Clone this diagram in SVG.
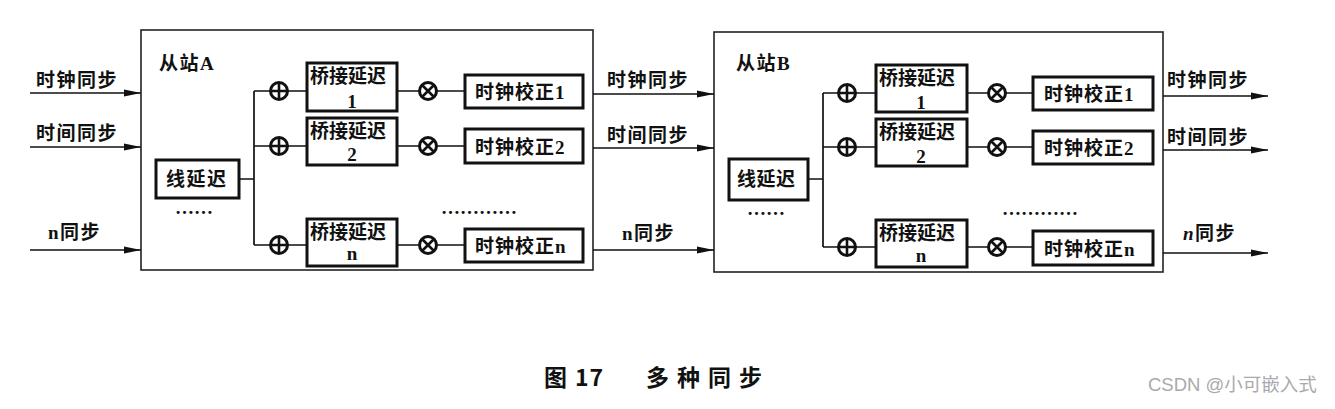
<svg xmlns="http://www.w3.org/2000/svg" width="1335" height="409" viewBox="0 0 1335 409">
<defs>
<style>
.t{font-family:"Liberation Serif","Noto Sans CJK SC",serif;font-weight:bold;font-size:19px;fill:#111}
.lb{letter-spacing:1.5px}
.bx{fill:#fff;stroke:#111;stroke-width:3}
.st{fill:#fff;stroke:#222;stroke-width:1.6}
.ln{fill:none;stroke:#111;stroke-width:1.7}
.ar{fill:none;stroke:#111;stroke-width:1.7;marker-end:url(#ah)}
.op{fill:#fff;stroke:#111;stroke-width:3}
.cap{font-family:"Noto Sans CJK SC","Liberation Sans",sans-serif;font-weight:bold;font-size:23px;fill:#111}
.wm{font-family:"Liberation Sans","Noto Sans CJK SC",sans-serif;font-size:18.5px;fill:#aaa}
</style>
<marker id="ah" markerUnits="userSpaceOnUse" markerWidth="17" markerHeight="8" refX="17" refY="4" orient="auto">
<path d="M0,0.5 L17,4 L0,7.5 z" fill="#111"/>
</marker>
<g id="plus"><circle r="8.5" class="op"/><path d="M-8.5,0H8.5M0,-8.5V8.5" stroke="#111" stroke-width="2.6"/></g>
<g id="times"><circle r="8.5" class="op"/><path d="M-6,-6L6,6M-6,6L6,-6" stroke="#111" stroke-width="2.6"/></g>
</defs>
<rect width="1335" height="409" fill="#fff"/>

<!-- station frames -->
<g id="stationA"><rect x="141" y="30" width="452" height="240" class="st"/><text x="159" y="70" class="t lb">从站A</text></g>
<g id="stationB"><rect x="714" y="32" width="449" height="240" class="st"/><text x="736" y="70" class="t lb">从站B</text></g>

<!-- connectors -->
<g id="connectors">
<path class="ar" d="M30,93H141"/>
<path class="ar" d="M30,147H141"/>
<path class="ar" d="M30,250H141"/>
<path class="ln" d="M239,179H254M254,91V245M254,91H271M254,146H271M254,245H271"/>
<path class="ln" d="M287,91H307M287,146H307M287,245H307"/>
<path class="ln" d="M397,91H420M397,146H420M397,245H420"/>
<path class="ln" d="M436,91H465M436,146H465M436,245H465"/>
<path class="ar" d="M593,94H714"/>
<path class="ar" d="M593,148H714"/>
<path class="ar" d="M593,250H714"/>
<path class="ln" d="M808,179H823M823,93V247M823,93H839M823,147H839M823,247H839"/>
<path class="ln" d="M855,93H876M855,147H876M855,247H876"/>
<path class="ln" d="M967,93H989M967,147H989M967,247H989"/>
<path class="ln" d="M1005,93H1033M1005,147H1033M1005,247H1033"/>
<path class="ar" d="M1163,96H1268"/>
<path class="ar" d="M1163,150H1268"/>
<path class="ar" d="M1163,253H1268"/>
</g>

<!-- external labels -->
<g id="labels">
<text x="36" y="87" class="t lb">时钟同步</text>
<text x="36" y="140" class="t lb">时间同步</text>
<text x="48" y="239" class="t lb">n同步</text>
<text x="607" y="87" class="t lb">时钟同步</text>
<text x="607" y="142" class="t lb">时间同步</text>
<text x="622" y="240" class="t lb">n同步</text>
<text x="1167" y="87" class="t lb">时钟同步</text>
<text x="1167" y="144" class="t lb">时间同步</text>
<text x="1183" y="240" class="t lb"><tspan font-style="italic">n</tspan>同步</text>
</g>

<!-- station A nodes -->
<g id="A-line"><rect x="156" y="160" width="83" height="38" class="bx"/><text x="166" y="186" class="t" font-size="20" letter-spacing="1.5">线延迟</text></g>
<text x="175" y="214" class="t" font-size="16">……</text>
<g id="A-sum1"><use href="#plus" x="279" y="91"/></g>
<g id="A-sum2"><use href="#plus" x="279" y="146"/></g>
<g id="A-sumn"><use href="#plus" x="279" y="245"/></g>
<g id="A-bridge1"><rect x="307" y="63" width="90" height="48" class="bx"/><text x="310" y="83" class="t" font-size="21">桥接延迟</text><text x="352" y="108" class="t" text-anchor="middle">1</text></g>
<g id="A-bridge2"><rect x="307" y="118" width="90" height="47" class="bx"/><text x="310" y="138" class="t" font-size="21">桥接延迟</text><text x="352" y="161" class="t" text-anchor="middle">2</text></g>
<g id="A-bridgen"><rect x="307" y="219" width="90" height="47" class="bx"/><text x="310" y="239" class="t" font-size="21">桥接延迟</text><text x="352" y="260" class="t" text-anchor="middle">n</text></g>
<g id="A-mul1"><use href="#times" x="428" y="91"/></g>
<g id="A-mul2"><use href="#times" x="428" y="146"/></g>
<g id="A-muln"><use href="#times" x="428" y="245"/></g>
<text x="441" y="214" class="t" font-size="16">…………</text>
<g id="A-clock1"><rect x="465" y="75" width="118" height="33" class="bx"/><text x="475" y="99" class="t" letter-spacing="1">时钟校正1</text></g>
<g id="A-clock2"><rect x="465" y="129" width="118" height="34" class="bx"/><text x="475" y="154" class="t" letter-spacing="1">时钟校正2</text></g>
<g id="A-clockn"><rect x="465" y="229" width="118" height="33" class="bx"/><text x="475" y="253" class="t" letter-spacing="1">时钟校正n</text></g>

<!-- station B nodes -->
<g id="B-line"><rect x="729" y="159" width="79" height="41" class="bx"/><text x="737" y="186" class="t" font-size="20" letter-spacing="0.5">线延迟</text></g>
<text x="747" y="215" class="t" font-size="16">……</text>
<g id="B-sum1"><use href="#plus" x="847" y="93"/></g>
<g id="B-sum2"><use href="#plus" x="847" y="147"/></g>
<g id="B-sumn"><use href="#plus" x="847" y="247"/></g>
<g id="B-bridge1"><rect x="876" y="65" width="91" height="47" class="bx"/><text x="879" y="85" class="t" font-size="21">桥接延迟</text><text x="921" y="109" class="t" text-anchor="middle">1</text></g>
<g id="B-bridge2"><rect x="876" y="119" width="91" height="47" class="bx"/><text x="879" y="139" class="t" font-size="21">桥接延迟</text><text x="921" y="163" class="t" text-anchor="middle">2</text></g>
<g id="B-bridgen"><rect x="876" y="220" width="91" height="47" class="bx"/><text x="879" y="240" class="t" font-size="21">桥接延迟</text><text x="921" y="262" class="t" text-anchor="middle">n</text></g>
<g id="B-mul1"><use href="#times" x="997" y="93"/></g>
<g id="B-mul2"><use href="#times" x="997" y="147"/></g>
<g id="B-muln"><use href="#times" x="997" y="247"/></g>
<text x="1002" y="215" class="t" font-size="16">…………</text>
<g id="B-clock1"><rect x="1033" y="77" width="120" height="33" class="bx"/><text x="1044" y="101" class="t" letter-spacing="1">时钟校正1</text></g>
<g id="B-clock2"><rect x="1033" y="131" width="120" height="33" class="bx"/><text x="1044" y="155" class="t" letter-spacing="1">时钟校正2</text></g>
<g id="B-clockn"><rect x="1033" y="231" width="120" height="34" class="bx"/><text x="1044" y="256" class="t" letter-spacing="1">时钟校正n</text></g>

<!-- caption -->
<text x="544" y="386" class="cap">图</text>
<text x="575" y="386" class="cap" letter-spacing="1">17</text>
<text x="646" y="386" class="cap" letter-spacing="8">多种同步</text>
<text x="1148" y="391" class="wm">CSDN @小可嵌入式</text>
</svg>
